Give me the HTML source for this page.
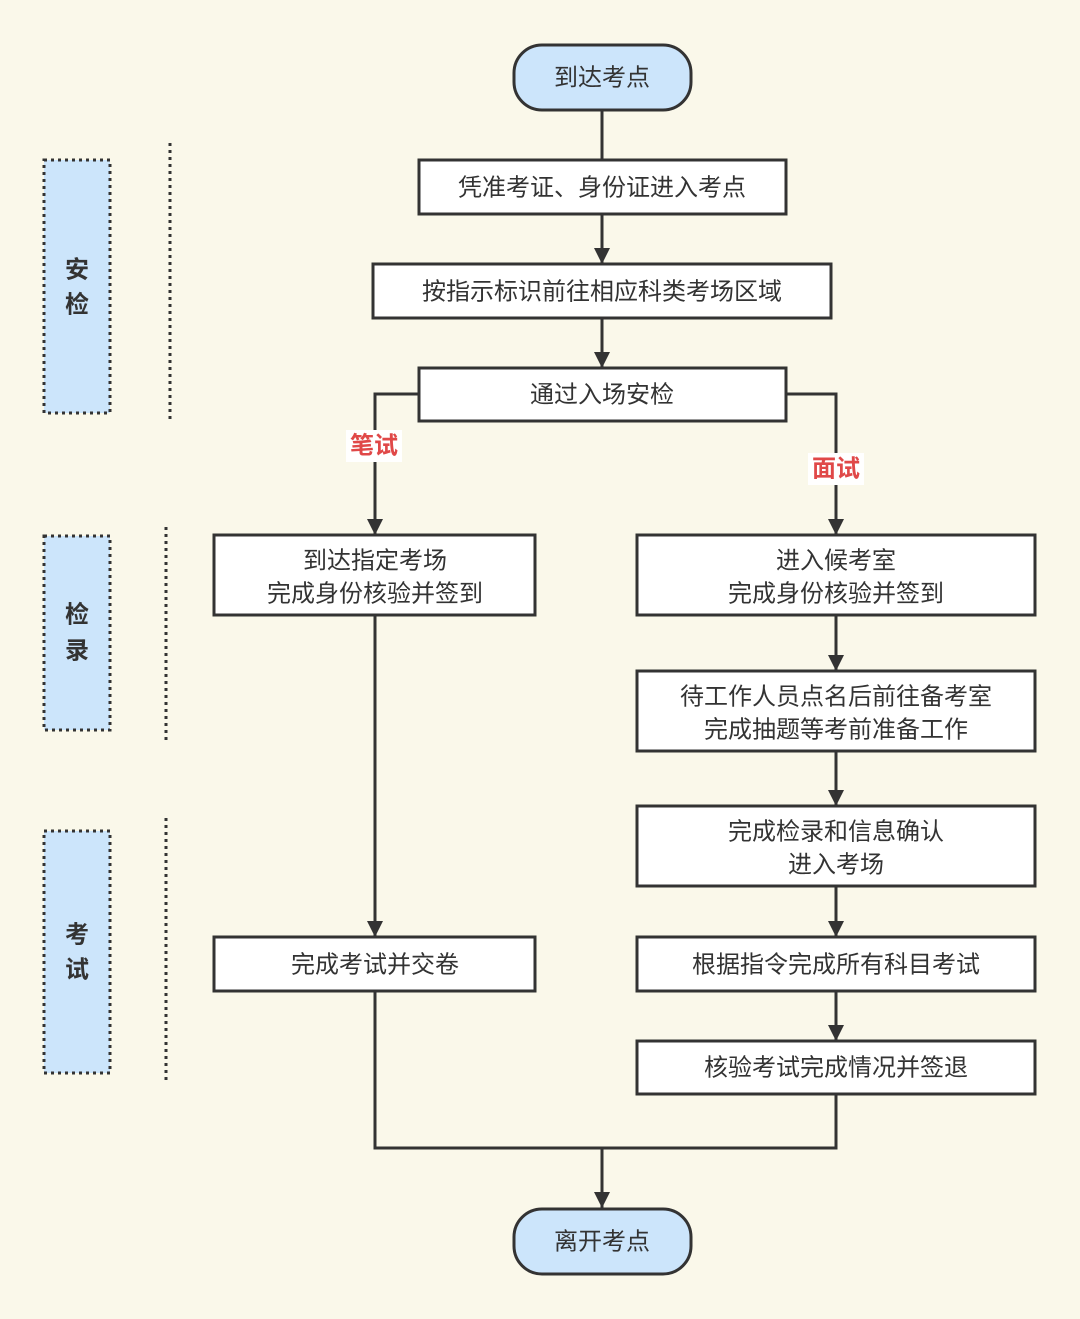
<!DOCTYPE html>
<html><head><meta charset="utf-8"><style>
html,body{margin:0;padding:0;background:#faf8ea;}
svg{display:block}
text{font-family:"Liberation Sans","Noto Sans CJK SC",sans-serif;fill:#333;font-size:24px;text-anchor:middle;dominant-baseline:central}
</style></head><body>
<svg width="1080" height="1319" viewBox="0 0 1080 1319" xmlns="http://www.w3.org/2000/svg">
<defs><marker id="a" markerWidth="10" markerHeight="10" refX="8" refY="5" orient="auto" markerUnits="userSpaceOnUse" viewBox="0 0 10 10"><path d="M0,0 L10,5 L0,10z" fill="#333"/></marker>
<marker id="b" viewBox="0 0 16 20" refX="16" refY="10" markerWidth="16" markerHeight="20" orient="auto" markerUnits="userSpaceOnUse"><path d="M0,2 L16,10 L0,18z" fill="#333"/></marker></defs>
<rect width="1080" height="1319" fill="#faf8ea"/>
<g stroke="#333" stroke-width="3" fill="none">
<!-- side labels -->
<rect x="44" y="160" width="66" height="253" fill="#cce5fb" stroke-dasharray="3 4"/>
<rect x="44" y="536" width="66" height="194" fill="#cce5fb" stroke-dasharray="3 4"/>
<rect x="44" y="831" width="66" height="242" fill="#cce5fb" stroke-dasharray="3 4"/>
<line x1="170" y1="143" x2="170" y2="422" stroke-dasharray="3 4"/>
<line x1="166" y1="527" x2="166" y2="742" stroke-dasharray="3 4"/>
<line x1="166" y1="818" x2="166" y2="1080" stroke-dasharray="3 4"/>
<!-- connectors -->
<line x1="602" y1="110" x2="602" y2="160"/>
<line x1="602" y1="214" x2="602" y2="264" marker-end="url(#b)"/>
<line x1="602" y1="318" x2="602" y2="368" marker-end="url(#b)"/>
<polyline points="419,394 375,394 375,535" marker-end="url(#b)"/>
<polyline points="786,394 836,394 836,535" marker-end="url(#b)"/>
<line x1="375" y1="615" x2="375" y2="937" marker-end="url(#b)"/>
<line x1="836" y1="615" x2="836" y2="671" marker-end="url(#b)"/>
<line x1="836" y1="751" x2="836" y2="806" marker-end="url(#b)"/>
<line x1="836" y1="886" x2="836" y2="937" marker-end="url(#b)"/>
<line x1="836" y1="991" x2="836" y2="1041" marker-end="url(#b)"/>
<polyline points="375,991 375,1148 836,1148 836,1094"/>
<line x1="602" y1="1148" x2="602" y2="1208" marker-end="url(#b)"/>
<!-- boxes -->
<rect x="514" y="45" width="177" height="65" rx="28" fill="#cce5fb"/>
<rect x="514" y="1209" width="177" height="65" rx="28" fill="#cce5fb"/>
<rect x="419" y="160" width="367" height="54" fill="#fff"/>
<rect x="373" y="264" width="458" height="54" fill="#fff"/>
<rect x="419" y="368" width="367" height="53" fill="#fff"/>
<rect x="214" y="535" width="321" height="80" fill="#fff"/>
<rect x="637" y="535" width="398" height="80" fill="#fff"/>
<rect x="637" y="671" width="398" height="80" fill="#fff"/>
<rect x="637" y="806" width="398" height="80" fill="#fff"/>
<rect x="637" y="937" width="398" height="54" fill="#fff"/>
<rect x="637" y="1041" width="398" height="53" fill="#fff"/>
<rect x="214" y="937" width="321" height="54" fill="#fff"/>
</g>
<rect x="346" y="430" width="56" height="32" fill="#fff"/>
<rect x="808" y="453" width="56" height="32" fill="#fff"/>
<text x="374" y="446" style="fill:#e04848;font-weight:bold">笔试</text>
<text x="836" y="469" style="fill:#e04848;font-weight:bold">面试</text>
<g style="font-weight:bold;font-size:26px">
<text x="77" y="270">安</text><text x="77" y="305">检</text>
<text x="77" y="615">检</text><text x="77" y="651">录</text>
<text x="77" y="935">考</text><text x="77" y="970">试</text>
</g>
<text x="602" y="78">到达考点</text>
<text x="602" y="1242">离开考点</text>
<text x="602" y="188">凭准考证、身份证进入考点</text>
<text x="602" y="292">按指示标识前往相应科类考场区域</text>
<text x="602" y="395">通过入场安检</text>
<text x="375" y="561">到达指定考场</text>
<text x="375" y="594">完成身份核验并签到</text>
<text x="836" y="561">进入候考室</text>
<text x="836" y="594">完成身份核验并签到</text>
<text x="836" y="697">待工作人员点名后前往备考室</text>
<text x="836" y="730">完成抽题等考前准备工作</text>
<text x="836" y="832">完成检录和信息确认</text>
<text x="836" y="865">进入考场</text>
<text x="836" y="965">根据指令完成所有科目考试</text>
<text x="836" y="1068">核验考试完成情况并签退</text>
<text x="375" y="965">完成考试并交卷</text>
</svg>
</body></html>
